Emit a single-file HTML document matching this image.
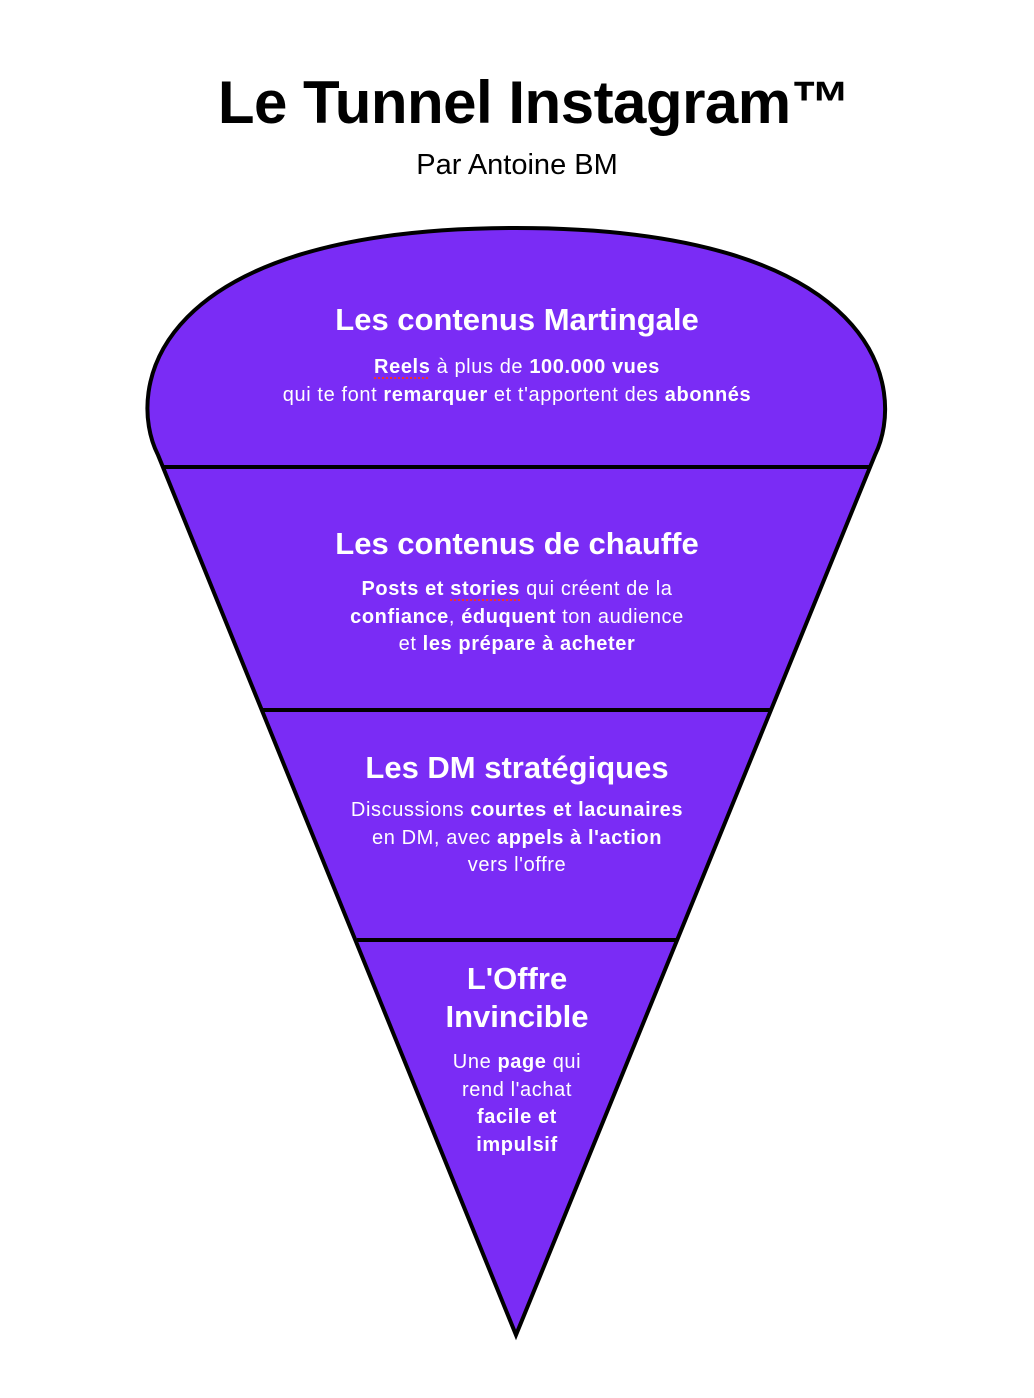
<!DOCTYPE html>
<html><head><meta charset="utf-8"><style>
body{margin:0;background:#fff;width:1034px;height:1398px;overflow:hidden;font-family:"Liberation Sans",sans-serif}
svg{position:absolute;left:0;top:0}
.t{position:absolute;left:0;width:1034px;text-align:center;color:#fff}
.h{font-weight:bold;font-size:31px}
.b{font-size:20px;line-height:27.5px;letter-spacing:0.6px}
.b b{font-weight:bold}
u{text-decoration:underline dotted #e33;text-underline-offset:4px}
</style></head><body>
<svg width="1034" height="1398">
<path d="M516 1335 L158 455 C125 390,150 228,516 228 C882 228,907 390,875 455 Z" fill="#7a2cf5" stroke="#000" stroke-width="4"/>
<g stroke="#000" stroke-width="4">
<line x1="163" y1="467" x2="870" y2="467"/>
<line x1="263" y1="710" x2="770" y2="710"/>
<line x1="357" y1="940" x2="677" y2="940"/>
</g>
</svg>
<div style="position:absolute;left:0;width:1068px;text-align:center;top:68px;font-size:60px;font-weight:bold;color:#000;letter-spacing:-0.5px">Le Tunnel Instagram™</div>
<div style="position:absolute;left:0;width:1034px;text-align:center;top:149px;font-size:29px;color:#000">Par Antoine BM</div>
<div class="t h" style="top:302px">Les contenus Martingale</div>
<div class="t b" style="top:354px"><b><u>Reels</u></b> à plus de <b>100.000 vues</b><br>qui te font <b>remarquer</b> et t'apportent des <b>abonnés</b></div>
<div class="t h" style="top:526px">Les contenus de chauffe</div>
<div class="t b" style="top:576px"><b>Posts et <u>stories</u></b> qui créent de la<br><b>confiance</b>, <b>éduquent</b> ton audience<br>et <b>les prépare à acheter</b></div>
<div class="t h" style="top:750px">Les DM stratégiques</div>
<div class="t b" style="top:797px">Discussions <b>courtes et lacunaires</b><br>en DM, avec <b>appels à l'action</b><br>vers l'offre</div>
<div class="t h" style="top:960px;line-height:38px">L'Offre<br>Invincible</div>
<div class="t b" style="top:1049px">Une <b>page</b> qui<br>rend l'achat<br><b>facile et<br>impulsif</b></div>
</body></html>
